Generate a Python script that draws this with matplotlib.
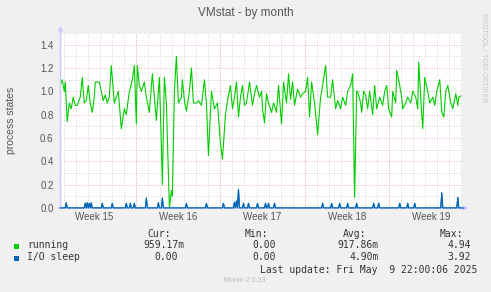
import matplotlib
matplotlib.use('Agg')
import matplotlib.pyplot as plt
import numpy as np

# hours since monday of week 15
run_hours = [16, 20, 24, 26, 30, 34, 38, 42, 46, 50, 56, 60, 64, 68, 72, 76, 80, 84, 86, 90,
             94, 98, 102, 106, 110, 114, 118, 124, 128, 132, 138, 144, 148, 154, 160, 164, 168, 170, 174, 178,
             184, 188, 194, 200, 204, 208, 214, 218, 220, 224, 228, 234, 238, 240, 244, 248, 252, 258, 260, 264,
             268, 274, 278, 282, 288, 292, 298, 300, 304, 308, 312, 318, 324, 330, 336, 340, 346, 350, 356, 360,
             364, 368, 372, 376, 380, 384, 388, 394, 400, 404, 408, 414, 418, 420, 424, 428, 432, 438, 442, 448,
             452, 458, 462, 468, 472, 476, 480, 484, 490, 496, 500, 506, 510, 514, 518, 524, 530, 536, 540, 546,
             550, 556, 560, 566, 570, 576, 580, 586, 590, 596, 600, 604, 608, 610, 616, 618, 622, 626, 630, 634,
             640, 644, 648, 654, 660, 664, 668, 672, 678, 680, 686, 688, 694, 698, 700, 706, 710, 716, 720, 726,
             730, 732, 738, 740, 744, 750, 754, 760, 764, 768, 774, 778, 782, 786, 790, 796, 800, 806, 810, 812,
             816]
running = [1.05, 1.10, 1.00, 1.08, 0.74, 0.90, 0.85, 0.95, 0.88, 0.88, 0.95, 1.12, 0.90, 0.92, 1.05, 0.90, 0.82, 0.95, 1.08, 1.08,
           1.08, 1.00, 0.92, 0.97, 0.90, 0.95, 1.22, 0.90, 0.95, 1.00, 0.68, 0.85, 0.80, 1.00, 1.10, 1.22, 0.72, 1.22, 1.05, 1.00,
           1.08, 0.95, 0.82, 1.15, 0.95, 0.75, 1.12, 0.55, 0.20, 1.12, 0.90, 0.00, 0.15, 0.10, 1.00, 1.30, 0.90, 0.95, 1.10, 0.92,
           0.83, 1.00, 1.20, 0.90, 0.90, 0.92, 0.88, 0.95, 1.10, 0.90, 0.45, 1.00, 0.85, 0.90, 0.55, 0.42, 0.80, 0.92, 1.05, 0.85,
           0.95, 1.08, 0.78, 0.95, 1.05, 0.88, 0.90, 1.08, 0.88, 0.98, 1.05, 0.95, 1.00, 0.85, 0.73, 0.98, 0.90, 0.82, 0.90, 0.82,
           1.05, 0.72, 1.08, 0.90, 1.15, 0.93, 1.08, 0.88, 1.02, 0.95, 0.98, 1.00, 1.12, 0.78, 1.08, 0.90, 0.63, 0.95, 1.05, 1.22,
           0.95, 0.95, 1.10, 0.85, 0.92, 0.85, 0.95, 0.88, 1.00, 1.05, 1.15, 0.09, 1.00, 1.00, 0.90, 0.82, 1.00, 0.97, 0.85, 1.00,
           0.80, 1.05, 0.85, 0.95, 0.88, 1.00, 1.05, 0.85, 0.78, 1.00, 0.90, 1.18, 1.05, 0.95, 0.85, 0.90, 0.95, 0.90, 1.00, 0.95,
           0.85, 1.25, 0.80, 0.68, 1.12, 1.00, 0.90, 0.95, 0.88, 1.00, 1.10, 0.82, 0.78, 1.00, 1.05, 0.90, 0.85, 0.98, 0.88, 0.95,
           0.96]

# I/O sleep spikes (hour, value), zero in between
io_hours = [28, 66, 70, 74, 78, 100, 120, 148, 156, 164, 188, 212, 220, 268, 308, 342, 364, 368, 372, 382,
            392, 410, 426, 432, 444, 540, 558, 574, 590, 608, 642, 652, 694, 710, 724, 778, 810]
io_spikes = [0.045, 0.04, 0.045, 0.04, 0.045, 0.04, 0.04, 0.04, 0.04, 0.04, 0.085, 0.045, 0.085, 0.04, 0.04, 0.04, 0.05, 0.06, 0.16, 0.04,
             0.04, 0.04, 0.04, 0.04, 0.04, 0.04, 0.04, 0.04, 0.04, 0.04, 0.04, 0.04, 0.04, 0.04, 0.04, 0.13, 0.09]

week_labels = ['Week 15', 'Week 16', 'Week 17', 'Week 18', 'Week 19']

legend_names = ['running', 'I/O sleep']
legend_cur = ['959.17m', '0.00']
legend_min = ['0.00', '0.00']
legend_avg = ['917.86m', '4.90m']
legend_max = ['4.94', '3.92']
colors = ['#00CC00', '#0066B3']

W, H = 491, 292
fig = plt.figure(figsize=(W / 100, H / 100), dpi=100, facecolor='#F0F0F0')
ax = fig.add_axes([60.5 / W, 1 - 208 / H, (462 - 60.5) / W, (208 - 33) / H])
ax.set_facecolor('white')

# blue series on 2 hour steps
io_t = np.arange(16, 824, 2)
io_v = np.zeros(len(io_t))
for h, v in zip(io_hours, io_spikes):
    io_v[(h - 16) // 2] = v

ax.plot(np.array(run_hours) / 24, running, color=colors[0], lw=0.8, zorder=3)
ax.plot(io_t / 24, io_v, color=colors[1], lw=0.8, zorder=4)

ax.set_xlim(0.69, 34.1)
ax.set_ylim(0, 1.5)

# grid
ax.set_yticks(np.arange(0, 1.41, 0.2))
ax.set_yticks(np.arange(0.1, 1.51, 0.2), minor=True)
ax.set_yticklabels(['%.1f' % v for v in np.arange(0, 1.41, 0.2)])
ax.set_xticks([3.5, 10.5, 17.5, 24.5, 31.5])
ax.set_xticklabels(week_labels)
ax.set_xticks(np.arange(1, 35), minor=True)
ax.grid(which='minor', color='#c8c8c8', linestyle=(0, (1, 2)), lw=0.6)
ax.grid(which='major', axis='y', color='#f0a0a0', linestyle=(0, (1, 2)), lw=0.6)
for wk in [7, 14, 21, 28]:
    ax.axvline(wk, color='#f0a0a0', linestyle=(0, (1, 2)), lw=0.6, zorder=1)
ax.set_axisbelow(True)

ax.tick_params(which='both', length=0, labelsize=7, labelcolor='#555555')
ax.tick_params(axis='y', pad=5)
ax.tick_params(axis='x', pad=3)
for lab in ax.get_xticklabels() + ax.get_yticklabels():
    lab.set_family('Liberation Sans')
for s in ax.spines.values():
    s.set_visible(False)

# axis lines with arrows
ax.annotate('', xy=(60.5, H - 26), xytext=(60.5, H - 209), xycoords='figure pixels',
            arrowprops=dict(arrowstyle='-|>', color='#c8c8ff', lw=1, mutation_scale=6, shrinkA=0, shrinkB=0))
ax.annotate('', xy=(468, H - 208), xytext=(58, H - 208), xycoords='figure pixels',
            arrowprops=dict(arrowstyle='-|>', color='#c8c8ff', lw=1, mutation_scale=6, shrinkA=0, shrinkB=0))
ax.plot(io_t / 24, io_v, color=colors[1], lw=0.8, zorder=5, clip_on=False)

def px(x, y):
    return x / W, 1 - y / H

fig.text(*px(245.5, 13), 'VMstat - by month', ha='center', va='center', fontsize=8.5,
         family='Liberation Sans', color='#555555')
fig.text(*px(11, 120), 'process states', ha='center', va='center', rotation=90, fontsize=7.5,
         family='Liberation Sans', color='#555555')
fig.text(*px(484, 58), 'RRDTOOL / TOBI OETIKER', ha='center', va='center', rotation=270, fontsize=5,
         family='Liberation Sans', color='#c8c8c8')

mono = dict(family='DejaVu Sans Mono', fontsize=7, color='#333333', va='center')
fig.text(*px(171, 234), 'Cur:', ha='right', **mono)
fig.text(*px(268, 234), 'Min:', ha='right', **mono)
fig.text(*px(366, 234), 'Avg:', ha='right', **mono)
fig.text(*px(463, 234), 'Max:', ha='right', **mono)
rows_y = [245.5, 257.5]
for i in range(2):
    y = rows_y[i]
    fig.patches.append(plt.Rectangle(px(14, y + 3), 5 / W, 5 / H, transform=fig.transFigure,
                                     facecolor=colors[i], edgecolor='none'))
    fig.text(*px(27, y), legend_names[i], ha='left', **mono)
    cur = legend_cur[i]
    fig.text(*px(184 if cur.endswith('m') else 178, y), cur, ha='right', **mono)
    fig.text(*px(276, y), legend_min[i], ha='right', **mono)
    fig.text(*px(379, y), legend_avg[i], ha='right', **mono)
    fig.text(*px(471, y), legend_max[i], ha='right', **mono)
fig.text(*px(477, 270), 'Last update: Fri May  9 22:00:06 2025', ha='right', **mono)
fig.text(*px(245, 280), 'Munin 2.0.33', ha='center', va='center', fontsize=5,
         family='Liberation Sans', color='#bbbbbb')

fig.savefig('out.png', dpi=100, facecolor=fig.get_facecolor())
